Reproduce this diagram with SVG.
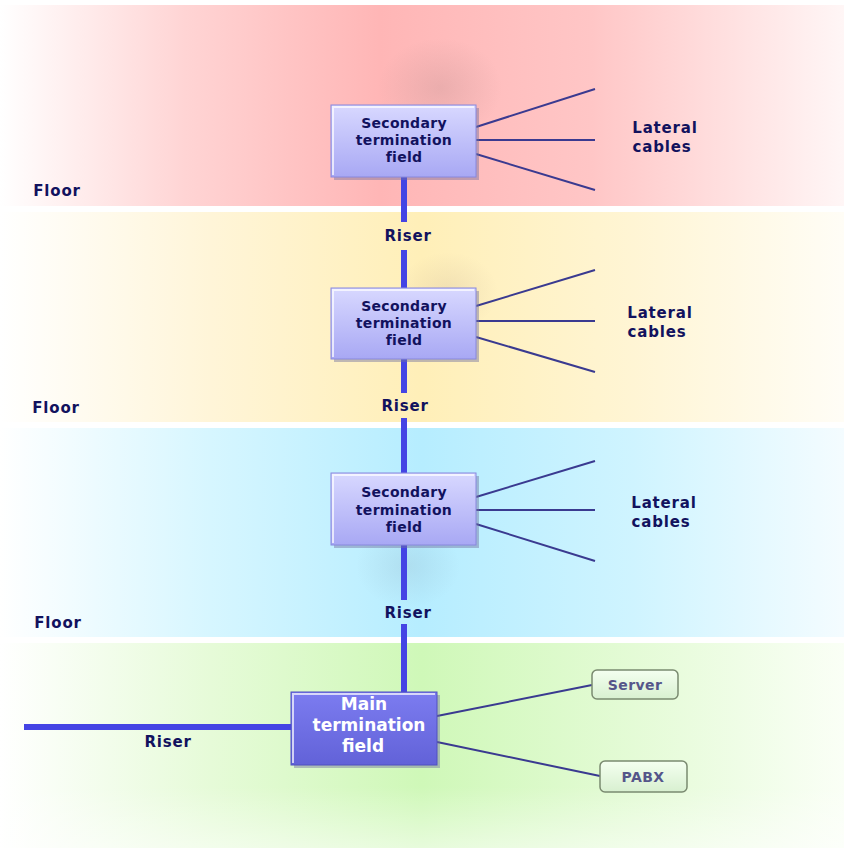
<svg xmlns="http://www.w3.org/2000/svg" width="844" height="850" viewBox="0 0 844 850">
<defs>
<linearGradient id="gRed" x1="0" y1="0" x2="1" y2="0">
<stop offset="0" stop-color="#ffffff"/><stop offset="0.22" stop-color="#ffd4d4"/><stop offset="0.45" stop-color="#ffb6b6"/><stop offset="0.7" stop-color="#ffc6c6"/><stop offset="1" stop-color="#fff6f6"/>
</linearGradient>
<linearGradient id="gYel" x1="0" y1="0" x2="1" y2="0">
<stop offset="0" stop-color="#ffffff"/><stop offset="0.25" stop-color="#fff5d8"/><stop offset="0.5" stop-color="#ffefb8"/><stop offset="0.75" stop-color="#fff5d4"/><stop offset="1" stop-color="#fffdf6"/>
</linearGradient>
<linearGradient id="gBlu" x1="0" y1="0" x2="1" y2="0">
<stop offset="0" stop-color="#ffffff"/><stop offset="0.25" stop-color="#d6f6ff"/><stop offset="0.5" stop-color="#b6edff"/><stop offset="0.75" stop-color="#cff4ff"/><stop offset="1" stop-color="#f4fcff"/>
</linearGradient>
<linearGradient id="gGrn" x1="0" y1="0" x2="1" y2="0">
<stop offset="0" stop-color="#ffffff"/><stop offset="0.25" stop-color="#e6fbd8"/><stop offset="0.5" stop-color="#cff8b8"/><stop offset="0.75" stop-color="#e4fbd6"/><stop offset="1" stop-color="#fafff6"/>
</linearGradient>
<linearGradient id="gFade" x1="0" y1="0" x2="0" y2="1">
<stop offset="0" stop-color="#ffffff" stop-opacity="0"/><stop offset="0.7" stop-color="#ffffff" stop-opacity="0"/><stop offset="1" stop-color="#ffffff" stop-opacity="0.5"/>
</linearGradient>
<radialGradient id="spot" cx="0.5" cy="0.5" r="0.5">
<stop offset="0" stop-color="#907070" stop-opacity="0.18"/><stop offset="1" stop-color="#907070" stop-opacity="0"/>
</radialGradient>
<radialGradient id="spotB" cx="0.5" cy="0.5" r="0.5">
<stop offset="0" stop-color="#8090a0" stop-opacity="0.16"/><stop offset="1" stop-color="#8090a0" stop-opacity="0"/>
</radialGradient>
<linearGradient id="gBox" x1="0" y1="0" x2="0" y2="1">
<stop offset="0" stop-color="#d8d8ff"/><stop offset="1" stop-color="#a8a8f4"/>
</linearGradient>
<linearGradient id="gMain" x1="0" y1="0" x2="0" y2="1">
<stop offset="0" stop-color="#7c7cf0"/><stop offset="1" stop-color="#6262d8"/>
</linearGradient>
<linearGradient id="gTerm" x1="0" y1="0" x2="0" y2="1">
<stop offset="0" stop-color="#f4fff0"/><stop offset="1" stop-color="#d8f0d0"/>
</linearGradient>
</defs>
<style>
.t{font-family:"DejaVu Sans",Verdana,sans-serif;font-weight:bold;fill:#12125e;text-anchor:middle}
.bt{font-size:14px;letter-spacing:0.3px}
.lbl{font-size:15px;letter-spacing:0.8px}
.mt{font-size:17px;fill:#ffffff}
.tt{font-size:14px;fill:#55558a;letter-spacing:0.4px}
.riser{stroke:#4444e4;stroke-width:6;fill:none}
.lat{stroke:#3a3a90;stroke-width:2;fill:none}
.box{fill:url(#gBox);stroke:#8888dd;stroke-width:1}
.hl{fill:none;stroke:#ffffff;stroke-opacity:0.7;stroke-width:2}
.shadow{fill:#7070a0;opacity:0.45}
.term{fill:url(#gTerm);stroke:#7a8a70;stroke-width:1.5}
</style>
<rect width="844" height="850" fill="#ffffff"/>
<g id="bands">
<rect x="0" y="5" width="844" height="201" fill="url(#gRed)"/>
<rect x="0" y="212" width="844" height="210" fill="url(#gYel)"/>
<rect x="0" y="428" width="844" height="209" fill="url(#gBlu)"/>
<rect x="0" y="643" width="844" height="205" fill="url(#gGrn)"/>
<rect x="0" y="643" width="844" height="205" fill="url(#gFade)"/>
<ellipse cx="440" cy="88" rx="62" ry="50" fill="url(#spot)"/>
<ellipse cx="448" cy="292" rx="50" ry="40" fill="url(#spot)" opacity="0.7"/>
<ellipse cx="408" cy="566" rx="52" ry="42" fill="url(#spotB)"/>
</g>
<g id="connectors">
<path class="riser" d="M404,177 V222 M404,250 V288 M404,359 V393 M404,418 V473 M404,545 V600 M404,624 V692 M24,727 H292"/>
<path class="lat" d="M476,127 L595,89 M476,140 H595 M476,154 L595,190"/>
<path class="lat" d="M476,306 L595,270 M476,321 H595 M476,337 L595,372"/>
<path class="lat" d="M476,497 L595,461 M476,510 H595 M476,524 L595,561"/>
<path class="lat" d="M437,716 L592,685 M437,742 L600,776"/>
</g>
<g id="labels">
<text class="t lbl" x="57" y="196">Floor</text>
<text class="t lbl" x="56" y="413">Floor</text>
<text class="t lbl" x="58" y="628">Floor</text>
<text class="t lbl" x="408" y="241">Riser</text>
<text class="t lbl" x="405" y="411">Riser</text>
<text class="t lbl" x="408" y="618">Riser</text>
<text class="t lbl" x="168" y="747">Riser</text>
<text class="t lbl" x="665" y="133">Lateral</text>
<text class="t lbl" x="662" y="152">cables</text>
<text class="t lbl" x="660" y="318">Lateral</text>
<text class="t lbl" x="657" y="337">cables</text>
<text class="t lbl" x="664" y="508">Lateral</text>
<text class="t lbl" x="661" y="527">cables</text>
</g>
<g id="stf1">
<rect class="shadow" x="334" y="108" width="145" height="72"/>
<rect class="box" x="331" y="105" width="145" height="72"/>
<path class="hl" d="M333,175 V107 H474"/>
<text class="t bt" x="404" y="128">Secondary</text>
<text class="t bt" x="404" y="145">termination</text>
<text class="t bt" x="404" y="162">field</text>
</g>
<g id="stf2">
<rect class="shadow" x="334" y="291" width="145" height="71"/>
<rect class="box" x="331" y="288" width="145" height="71"/>
<path class="hl" d="M333,357 V290 H474"/>
<text class="t bt" x="404" y="311">Secondary</text>
<text class="t bt" x="404" y="328">termination</text>
<text class="t bt" x="404" y="345">field</text>
</g>
<g id="stf3">
<rect class="shadow" x="334" y="476" width="145" height="72"/>
<rect class="box" x="331" y="473" width="145" height="72"/>
<path class="hl" d="M333,543 V475 H474"/>
<text class="t bt" x="404" y="497">Secondary</text>
<text class="t bt" x="404" y="515">termination</text>
<text class="t bt" x="404" y="532">field</text>
</g>
<g id="mtf">
<rect class="shadow" x="294" y="695" width="146" height="73"/>
<rect x="291" y="692" width="146" height="73" fill="url(#gMain)" stroke="#5050c0" stroke-width="1"/>
<path class="hl" d="M293,763 V694 H435" stroke-opacity="0.4"/>
<text class="t mt" x="364" y="710">Main</text>
<text class="t mt" x="369" y="731">termination</text>
<text class="t mt" x="363" y="752">field</text>
</g>
<g id="server">
<rect class="term" x="592" y="670" width="86" height="29" rx="5"/>
<text class="t tt" x="635" y="690">Server</text>
</g>
<g id="pabx">
<rect class="term" x="600" y="761" width="87" height="31" rx="5"/>
<text class="t tt" x="643" y="782">PABX</text>
</g>
</svg>
